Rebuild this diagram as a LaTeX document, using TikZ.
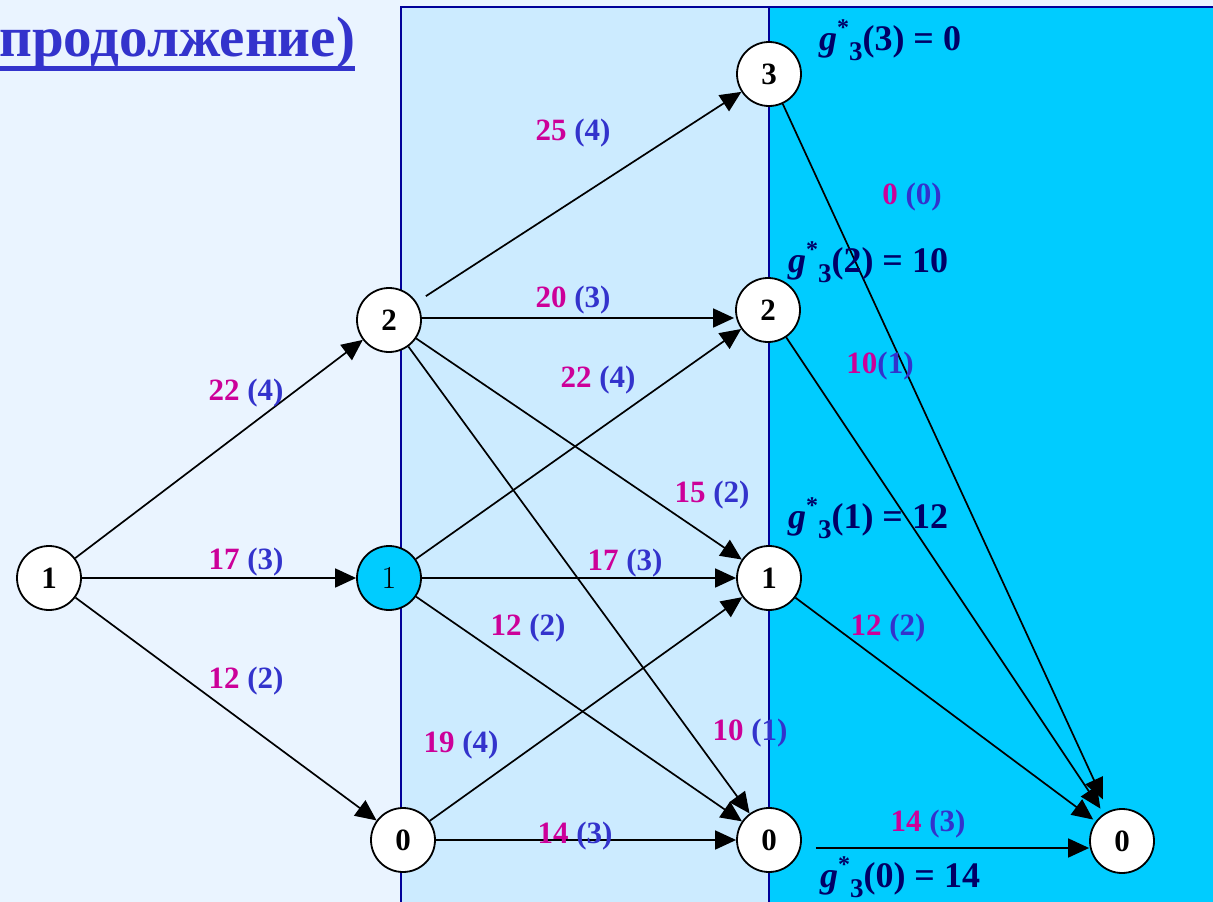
\documentclass[tikz,border=0pt]{standalone}
\usepackage{fontspec}
\newfontfamily\tnr{Liberation Serif}
\usetikzlibrary{arrows.meta}
\definecolor{bg}{HTML}{EAF4FF}
\definecolor{panelA}{HTML}{CCEBFF}
\definecolor{panelB}{HTML}{00CCFF}
\definecolor{frame}{HTML}{000099}
\definecolor{mag}{HTML}{CC0099}
\definecolor{blu}{HTML}{3333CC}
\definecolor{navy}{HTML}{000066}
\newcommand\gs[2]{\textit{g}\raisebox{0.42em}{\fontsize{24}{24}\selectfont *}\raisebox{-0.28em}{\fontsize{27}{27}\selectfont 3}(#1) = #2}
\newcommand\wl[2]{\textcolor{mag}{#1}\hspace{0.25em}\textcolor{blu}{(#2)}}
\newcommand\wlc[2]{\textcolor{mag}{#1}\textcolor{blu}{(#2)}}
\begin{document}
\begin{tikzpicture}[x=1pt,y=-1pt,
 state/.style={circle,draw=black,line width=1.8pt,fill=white,minimum size=64pt,inner sep=0pt,font=\tnr\bfseries\fontsize{31}{31}\selectfont},
 edge/.style={line width=1.7pt,-{Triangle[length=21pt,width=19pt]}},
 wlab/.style={font=\tnr\bfseries\fontsize{31}{31}\selectfont},
 glab/.style={font=\tnr\bfseries\fontsize{36}{36}\selectfont,text=navy},
 paneline/.style={draw=frame,line width=2pt}]
\useasboundingbox (0,0) rectangle (1213,902);
\fill[bg] (0,0) rectangle (1213,902);
\fill[panelA] (401,7) rectangle (769,910);
\fill[panelB] (769,7) rectangle (1220,910);
\draw[paneline] (401,910) -- (401,7) -- (1220,7);
\draw[paneline] (769,7) -- (769,910);

% title
\node[anchor=base west,inner sep=0pt,text=blu,font=\tnr\bfseries\fontsize{57}{57}\selectfont] (title) at (-1,56) {продолжение)};
\fill[blu] ([yshift=-10pt]title.base west) rectangle ([yshift=-15pt]title.base east);

% nodes
\node[state] (A1) at (49,578) {1};
\node[state] (B2) at (389,320) {2};
\node[state,fill=panelB,font=\normalfont\fontsize{32}{32}\selectfont] (B1) at (389,578) {1};
\node[state] (B0) at (403,840) {0};
\node[state] (C3) at (769,74) {3};
\node[state] (C2) at (768,310) {2};
\node[state] (C1) at (769,578) {1};
\node[state] (C0) at (769,840) {0};
\node[state] (D0) at (1122,841) {0};

% edges
\draw[edge] (A1) -- (B2);
\draw[edge] (A1) -- (B1);
\draw[edge] (A1) -- (B0);
\draw[edge,shorten <=11pt] (B2) -- (C3);
\draw[edge,shorten >=1pt] ([yshift=2pt]B2.east) -- ([yshift=2pt]B2.east -| C2.west);
\draw[edge] (B1) -- (C2);
\draw[edge] (B2) -- (C1);
\draw[edge] (B2) -- (C0);
\draw[edge] (B1) -- (C1);
\draw[edge] (B1) -- (C0);
\draw[edge] (B0) -- (C1);
\draw[edge] (B0) -- (C0);
\draw[edge,shorten >=13pt] (C3) -- (D0);
\draw[edge,shorten >=6pt] (C2) -- (D0);
\draw[edge,shorten >=3pt] (C1) -- (D0);
\draw[edge,shorten <=14pt] ([yshift=-8pt]C0.east) -- ([yshift=-7pt]D0.west);

% edge labels
\node[wlab] (l1) at (246,393) {\wl{22}{4}};
\node[wlab] (l2) at (246,562) {\wl{17}{3}};
\node[wlab] (l3) at (246,681) {\wl{12}{2}};
\node[wlab] (l4) at (573,133) {\wl{25}{4}};
\node[wlab] (l5) at (573,300) {\wl{20}{3}};
\node[wlab] (l6) at (598,380) {\wl{22}{4}};
\node[wlab] (l7) at (712,495) {\wl{15}{2}};
\node[wlab] (l8) at (750,733) {\wl{10}{1}};
\node[wlab] (l9) at (625,563) {\wl{17}{3}};
\node[wlab] (l10) at (528,628) {\wl{12}{2}};
\node[wlab] (l11) at (461,745) {\wl{19}{4}};
\node[wlab] (l12) at (575,836) {\wl{14}{3}};
\node[wlab] (l13) at (912,197) {\wl{0}{0}};
\node[wlab] (l14) at (880,366) {\wlc{10}{1}};
\node[wlab] (l15) at (888,628) {\wl{12}{2}};
\node[wlab] (l16) at (928,824) {\wl{14}{3}};

% g labels
\node[glab] (g3) at (890,40) {\gs{3}{0}};
\node[glab] (g2) at (868,262) {\gs{2}{10}};
\node[glab] (g1) at (868,518) {\gs{1}{12}};
\node[glab] (g0) at (900,877) {\gs{0}{14}};
\end{tikzpicture}
\end{document}
